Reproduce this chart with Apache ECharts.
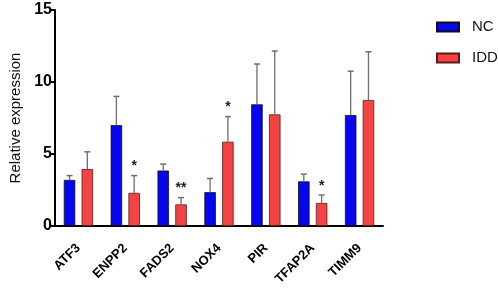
<!DOCTYPE html>
<html><head><meta charset="utf-8">
<script src="https://cdn.jsdelivr.net/npm/echarts@6/dist/echarts.min.js"></script>
<style>html,body{margin:0;padding:0;background:#fff}#c{width:498px;height:290px}</style>
</head><body><div id="c"></div>
<script>
var categories = ['ATF3','ENPP2','FADS2','NOX4','PIR','TFAP2A','TIMM9'];
var ncValues  = [3.2, 7.0, 3.85, 2.35, 8.45, 3.1, 7.7];
var iddValues = [3.95, 2.3, 1.5, 5.85, 7.75, 1.6, 8.75];
var ncErrTop  = [3.5, 9.0, 4.3, 3.3, 11.25, 3.6, 10.75];
var iddErrTop = [5.15, 3.5, 1.97, 7.6, 12.15, 2.15, 12.1];
var iddSig    = ['', '*', '**', '*', '', '*', ''];
var yTicks    = [0, 5, 10, 15];

var FONT = '"Liberation Sans", Arial, sans-serif';
var BW = 0.245, GAP = 0.55; // fractions of category band
var chart = echarts.init(document.getElementById('c'));
function errSeries(vals, tops, side, sig) {
  var data = vals.map(function (v, i) { return [i, v, tops[i], sig ? sig[i] : '']; });
  return {
    type: 'custom', silent: true, z: 5,
    data: data,
    renderItem: function (params, api) {
      var i = api.value(0), v = api.value(1), t = api.value(2);
      var band = api.size([1, 0])[0];
      var bw = band * BW, gap = bw * GAP;
      var c = api.coord([i, v]);
      var ct = api.coord([i, t]);
      var x = c[0] + side * (bw + gap) / 2;
      var cap = 3;
      var kids = [
        {type: 'line', shape: {x1: x, y1: c[1], x2: x, y2: ct[1]}, style: {stroke: '#6f6f6f', lineWidth: 1.3}},
        {type: 'line', shape: {x1: x - cap, y1: ct[1], x2: x + cap, y2: ct[1]}, style: {stroke: '#6f6f6f', lineWidth: 1.5}}
      ];
      var s = data[params.dataIndex][3];
      if (s) {
        kids.push({type: 'text', style: {text: s, x: x, y: ct[1] - 2, align: 'center', verticalAlign: 'bottom',
          font: 'bold 14px ' + FONT, fill: '#222'}});
      }
      return {type: 'group', children: kids};
    }
  };
}
var option = {
  backgroundColor: '#fff',
  animation: false,
  legend: {
    orient: 'vertical', left: 431, top: 14, itemGap: 15,
    itemWidth: 22, itemHeight: 9, icon: 'rect',
    textStyle: {fontSize: 15, lineHeight: 16, color: '#111', fontFamily: FONT, padding: [0, 0, 0, 8]},
    data: ['NC', 'IDD']
  },
  grid: {left: 53, top: 10, width: 330, bottom: 64, containLabel: false},
  xAxis: {
    type: 'category', data: categories,
    axisLine: {lineStyle: {color: '#000', width: 2}},
    axisTick: {alignWithLabel: true, length: 9, lineStyle: {color: '#000', width: 2}},
    axisLabel: {rotate: 45, margin: 20, fontSize: 13, fontWeight: 'bold', color: '#000', fontFamily: FONT, interval: 0}
  },
  yAxis: {
    type: 'value', min: yTicks[0], max: yTicks[yTicks.length - 1], interval: 5,
    name: 'Relative expression', nameLocation: 'middle', nameGap: 32,
    nameTextStyle: {fontSize: 15, color: '#111', fontFamily: FONT},
    axisLine: {show: true, lineStyle: {color: '#000', width: 2}},
    axisTick: {show: true, length: 5, lineStyle: {color: '#000', width: 2}},
    splitLine: {show: false},
    axisLabel: {fontSize: 16, fontWeight: 'bold', color: '#000', margin: 3, fontFamily: FONT}
  },
  series: [
    {name: 'NC', type: 'bar', data: ncValues, barWidth: (BW * 100) + '%', barGap: (GAP * 100) + '%',
     itemStyle: {color: '#0505f0', borderColor: '#111', borderWidth: 0.8}},
    {name: 'IDD', type: 'bar', data: iddValues, barWidth: (BW * 100) + '%',
     itemStyle: {color: '#f44343', borderColor: '#5a1a1a', borderWidth: 0.8}},
    errSeries(ncValues, ncErrTop, -1, null),
    errSeries(iddValues, iddErrTop, 1, iddSig)
  ]
};
chart.setOption(option);
</script></body></html>
